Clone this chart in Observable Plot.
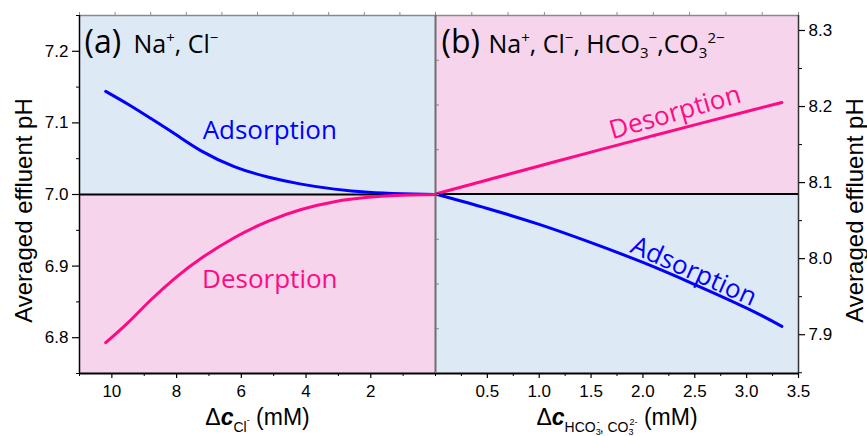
<!DOCTYPE html>
<html><head><meta charset="utf-8">
<script src="https://cdn.jsdelivr.net/npm/d3@7"></script>
<script src="https://cdn.jsdelivr.net/npm/@observablehq/plot@0.6"></script>
<style>
body{margin:0;background:#fff;}
#wrap{position:relative;width:867px;height:436px;overflow:hidden;background:#fff;}
#wrap svg{position:absolute;top:0;}
</style></head><body><div id="wrap"></div>
<script>
// ---- Panel (a): Na+, Cl-  (x = Δc_Cl- in mM, reversed axis)
const clX          = [10.19, 9.5, 8.79, 8.0, 7.24, 6.22, 5.18, 4.15, 3.12, 2.08, 1.05, 0];
const clAdsorption = [7.144, 7.126, 7.106, 7.083, 7.061, 7.039, 7.0245, 7.0145, 7.0075, 7.003, 7.001, 7.000];
const clDesorption = [6.793, 6.821, 6.853, 6.885, 6.911, 6.9396, 6.9625, 6.979, 6.990, 6.996, 6.999, 7.000];
const leftXDomain  = [11, 0];
const leftYDomain  = [6.75, 7.25];
const leftBase     = 7.0;
const leftXTicks   = [10, 8, 6, 4, 2];
const leftXMinor   = [11, 9, 7, 5, 3, 1, 0];
const leftYTicks   = [6.8, 6.9, 7.0, 7.1, 7.2];
const leftYMinor   = [6.75, 6.85, 6.95, 7.05, 7.15, 7.25];
const leftTopTicks = [0, 1.1, 2.2, 3.3, 4.4, 5.5, 6.6, 7.7, 8.8, 9.9, 11];
const leftEdgeTicks = [6.8125, 6.875, 6.9375, 7.0, 7.0625, 7.125, 7.1875];

// ---- Panel (b): Na+, Cl-, HCO3-, CO3 2-
const hcoX          = [0, 0.5, 1.0, 1.5, 2.0, 2.5, 3.0, 3.34];
const hcoDesorption = [8.085, 8.1035, 8.1219, 8.1401, 8.1581, 8.1759, 8.1935, 8.2054];
const hcoAdsorption = [8.085, 8.066, 8.045, 8.021, 7.995, 7.966, 7.935, 7.911];
const rightXDomain  = [0, 3.5];
const rightYDomain  = [7.849, 8.3197];
const rightBase     = 8.085;
const rightXTicks   = [0.5, 1.0, 1.5, 2.0, 2.5, 3.0, 3.5];
const rightXMinor   = [0, 0.25, 0.75, 1.25, 1.75, 2.25, 2.75, 3.25];
const rightYTicks   = [7.9, 8.0, 8.1, 8.2, 8.3];
const rightYMinor   = [7.85, 7.95, 8.05, 8.15, 8.25];
const rightTopTicks = [0, 0.35, 0.7, 1.05, 1.4, 1.75, 2.1, 2.45, 2.8, 3.15, 3.5];

// ---- annotation labels (data coordinates)
const leftLabels  = [{t: "Adsorption", x: 5.12, y: 7.089, c: "blue"}, {t: "Desorption", x: 5.12, y: 6.881, c: "pink"}];
const rightLabels = [{t: "Desorption", x: 2.31, y: 8.192, c: "pink", r: -16}, {t: "Adsorption", x: 2.49, y: 7.983, c: "blue", r: 24}];

const H = 436, mT = 15, mB = 63, leftEdge = 79, split = 435, rightEdge = 798;
const blueBg = "#dee9f6", pinkBg = "#f6d4ec";
const blue = "#0000ff", pink = "#ff0a84";
const colorOf = c => c === "blue" ? blue : pink;
const sans = "'Liberation Sans', Arial, sans-serif";
const open = "'Open Sans', 'Noto Sans', sans-serif";

const leftData  = clX.map((x, i) => ({x, ads: clAdsorption[i], des: clDesorption[i]}));
const rightData = hcoX.map((x, i) => ({x, ads: hcoAdsorption[i], des: hcoDesorption[i]}));
const fmt1 = d3.format(".1f");
const blank = () => "";

const left = Plot.plot({
  width: split, height: H, marginTop: mT, marginBottom: mB, marginLeft: leftEdge, marginRight: 0,
  style: {background: "transparent", overflow: "visible", fontFamily: sans},
  x: {domain: leftXDomain, axis: null},
  y: {domain: leftYDomain, axis: null},
  marks: [
    Plot.rect([{x1: leftXDomain[0], x2: leftXDomain[1], y1: leftBase, y2: leftYDomain[1]}], {x1: "x1", x2: "x2", y1: "y1", y2: "y2", fill: blueBg}),
    Plot.rect([{x1: leftXDomain[0], x2: leftXDomain[1], y1: leftYDomain[0], y2: leftBase}], {x1: "x1", x2: "x2", y1: "y1", y2: "y2", fill: pinkBg}),
    Plot.ruleY([leftYDomain[1]], {stroke: "#8a8a8a", strokeWidth: 1.5}),
    Plot.axisX(leftTopTicks, {anchor: "top", tickSize: 4, stroke: "#8a8a8a", tickFormat: blank, label: null}),
    Plot.axisY(leftEdgeTicks, {anchor: "right", tickSize: 3, stroke: "#8a8a8a", tickFormat: blank, label: null}),
    Plot.ruleX([leftXDomain[1]], {stroke: "#6e6e6e", strokeWidth: 2}),
    Plot.ruleY([leftBase], {stroke: "#000", strokeWidth: 2}),
    Plot.line(leftData, {x: "x", y: "ads", stroke: blue, strokeWidth: 3, curve: "natural"}),
    Plot.line(leftData, {x: "x", y: "des", stroke: pink, strokeWidth: 3, curve: "natural"}),
    Plot.ruleX([leftXDomain[0]], {stroke: "#000", strokeWidth: 1.5}),
    Plot.ruleY([leftYDomain[0]], {stroke: "#000", strokeWidth: 2}),
    Plot.axisY(leftYTicks, {anchor: "left", tickSize: 7, tickPadding: 4, tickFormat: fmt1, fontSize: 17, label: null, stroke: "#000", strokeWidth: 1.2}),
    Plot.axisY(leftYMinor, {anchor: "left", tickSize: 3, tickFormat: blank, label: null, stroke: "#000"}),
    Plot.axisX(leftXTicks, {anchor: "bottom", tickSize: 5, tickPadding: 6, fontSize: 17, label: null, stroke: "#000", strokeWidth: 1.2}),
    Plot.axisX(leftXMinor, {anchor: "bottom", tickSize: 3, tickFormat: blank, label: null, stroke: "#000"}),
    Plot.text(leftLabels, {x: "x", y: "y", text: "t", fill: d => colorOf(d.c), fontSize: 26, fontFamily: open, textAnchor: "middle", lineAnchor: "middle"}),
    Plot.text(["(a)"], {text: d => d, frameAnchor: "top-left", dx: 5, dy: 37, fontSize: 32, fontFamily: open, textAnchor: "start", lineAnchor: "bottom", fill: "#000"}),
    Plot.text(["KEY_A"], {text: d => d, frameAnchor: "top-left", dx: 54, dy: 37, fontSize: 25, fontFamily: open, textAnchor: "start", lineAnchor: "bottom", fill: "#000"}),
    Plot.text(["Averaged effluent pH"], {text: d => d, frameAnchor: "left", dx: -55, dy: 16, rotate: -90, fontSize: 24, textAnchor: "middle", lineAnchor: "middle", fill: "#000"}),
    Plot.text(["KEY_XL"], {text: d => d, frameAnchor: "bottom", dy: 51, fontSize: 23, textAnchor: "middle", lineAnchor: "bottom", fill: "#000"})
  ]
});

const right = Plot.plot({
  width: 867 - split, height: H, marginTop: mT, marginBottom: mB, marginLeft: 0, marginRight: 867 - rightEdge,
  style: {background: "transparent", overflow: "visible", fontFamily: sans},
  x: {domain: rightXDomain, axis: null},
  y: {domain: rightYDomain, axis: null},
  marks: [
    Plot.rect([{x1: rightXDomain[0], x2: rightXDomain[1], y1: rightBase, y2: rightYDomain[1]}], {x1: "x1", x2: "x2", y1: "y1", y2: "y2", fill: pinkBg}),
    Plot.rect([{x1: rightXDomain[0], x2: rightXDomain[1], y1: rightYDomain[0], y2: rightBase}], {x1: "x1", x2: "x2", y1: "y1", y2: "y2", fill: blueBg}),
    Plot.ruleY([rightYDomain[1]], {stroke: "#8a8a8a", strokeWidth: 1.5}),
    Plot.axisX(rightTopTicks, {anchor: "top", tickSize: 4, stroke: "#8a8a8a", tickFormat: blank, label: null}),
    Plot.ruleY([rightBase], {stroke: "#000", strokeWidth: 2}),
    Plot.line(rightData, {x: "x", y: "des", stroke: pink, strokeWidth: 3, curve: "natural"}),
    Plot.line(rightData, {x: "x", y: "ads", stroke: blue, strokeWidth: 3, curve: "natural"}),
    Plot.ruleX([rightXDomain[1]], {stroke: "#333", strokeWidth: 1.5}),
    Plot.ruleY([rightYDomain[0]], {stroke: "#000", strokeWidth: 2}),
    Plot.axisY(rightYTicks, {anchor: "right", tickSize: 6, tickPadding: 4, tickFormat: fmt1, fontSize: 17, label: null, stroke: "#000", strokeWidth: 1.2}),
    Plot.axisY(rightYMinor, {anchor: "right", tickSize: 3, tickFormat: blank, label: null, stroke: "#000"}),
    Plot.axisX(rightXTicks, {anchor: "bottom", tickSize: 5, tickPadding: 6, tickFormat: fmt1, fontSize: 17, label: null, stroke: "#000", strokeWidth: 1.2}),
    Plot.axisX(rightXMinor, {anchor: "bottom", tickSize: 3, tickFormat: blank, label: null, stroke: "#000"}),
    Plot.text(rightLabels, {x: "x", y: "y", text: "t", fill: d => colorOf(d.c), rotate: d => d.r, fontSize: 26, fontFamily: open, textAnchor: "middle", lineAnchor: "middle"}),
    Plot.text(["(b)"], {text: d => d, frameAnchor: "top-left", dx: 6, dy: 37, fontSize: 32, fontFamily: open, textAnchor: "start", lineAnchor: "bottom", fill: "#000"}),
    Plot.text(["KEY_B"], {text: d => d, frameAnchor: "top-left", dx: 53, dy: 37, fontSize: 25, fontFamily: open, textAnchor: "start", lineAnchor: "bottom", fill: "#000"}),
    Plot.text(["Averaged effluent pH"], {text: d => d, frameAnchor: "right", dx: 57, dy: 16, rotate: -90, fontSize: 24, textAnchor: "middle", lineAnchor: "middle", fill: "#000"}),
    Plot.text(["KEY_XR"], {text: d => d, frameAnchor: "bottom", dy: 51, fontSize: 23, textAnchor: "middle", lineAnchor: "bottom", fill: "#000"})
  ]
});

// rich text (superscripts / subscripts) built as real SVG tspans
function enrich(svg, key, parts) {
  d3.select(svg).selectAll("text").filter(function() { return this.textContent === key; }).each(function() {
    const t = d3.select(this);
    t.text(null);
    let cur = 0;
    for (const p of parts) {
      const shift = p.s || 0;
      const ts = t.append("tspan").text(p.t);
      if (p.z) ts.attr("font-size", p.z);
      if (p.i) ts.attr("font-style", "italic");
      if (p.b) ts.attr("font-weight", "bold");
      if (p.dx) ts.attr("dx", p.dx);
      if (shift !== cur) { ts.attr("dy", shift - cur); cur = shift; }
    }
  });
}
const sup = 15, supS = -10, subS = 5;
enrich(left, "KEY_A", [{t: "Na"}, {t: "+", z: sup, s: supS}, {t: ", Cl", s: 0}, {t: "−", z: sup, s: supS}]);
enrich(right, "KEY_B", [{t: "Na"}, {t: "+", z: sup, s: supS}, {t: ", Cl", s: 0}, {t: "−", z: sup, s: supS},
  {t: ", HCO", s: 0}, {t: "3", z: sup, s: subS}, {t: "−", z: sup, s: supS}, {t: ",CO", s: 0}, {t: "3", z: sup, s: subS}, {t: "2−", z: sup, s: supS}]);
enrich(left, "KEY_XL", [{t: "Δ"}, {t: "c", i: true, b: true}, {t: "Cl", z: 14, s: 7}, {t: "-", z: 9, s: -2}, {t: " (mM)", s: 0}]);
enrich(right, "KEY_XR", [{t: "Δ"}, {t: "c", i: true, b: true}, {t: "HCO", z: 14, s: 7}, {t: "3", z: 9, s: 10}, {t: "-", z: 9, s: 0, dx: -4},
  {t: ", CO", z: 14, s: 7}, {t: "3", z: 9, s: 10}, {t: "2-", z: 9, s: 0, dx: -4}, {t: " (mM)", s: 0}]);

const wrap = document.getElementById("wrap");
right.style.left = split + "px";
left.style.left = "0px";
wrap.appendChild(right);
wrap.appendChild(left);
</script></body></html>
